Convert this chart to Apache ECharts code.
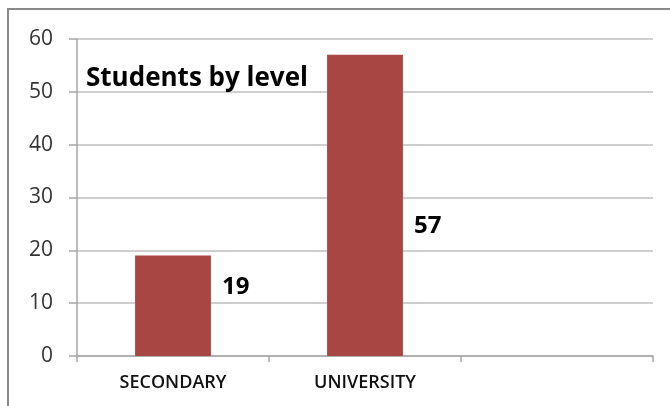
<!DOCTYPE html>
<html>
<head>
<meta charset="utf-8">
<script src="https://cdn.jsdelivr.net/npm/echarts@6/dist/echarts.min.js"></script>
<style>
html,body{margin:0;padding:0;background:#fff;}
#c{width:670px;height:406px;}
</style>
</head>
<body>
<div id="c"></div>
<script>
var categories = ['SECONDARY', 'UNIVERSITY', ''];
var studentCounts = [19, 57, null];
var yTicks = [0, 10, 20, 30, 40, 50, 60];
var titleText = 'Students by level';

// label placement relative to each bar (as in the reference)
var labelPos = [[87, 32], [87, 171], [0, 0]];

var chart = echarts.init(document.getElementById('c'), null, {renderer: 'canvas'});
var font = '"Open Sans", "Liberation Sans", sans-serif';

chart.setOption({
  animation: false,
  backgroundColor: '#ffffff',
  title: {
    text: titleText,
    left: 81,
    top: 61,
    textStyle: {fontFamily: font, fontSize: 26, fontWeight: 'bold', color: '#000'}
  },
  graphic: [{
    type: 'rect',
    shape: {x: 8, y: 9, width: 720, height: 500},
    style: {fill: 'none', stroke: '#8a8a8a', lineWidth: 2},
    silent: true
  }],
  grid: {left: 77, right: 17, top: 39, bottom: 50, containLabel: false},
  xAxis: {
    type: 'category',
    data: categories,
    axisLine: {show: true, lineStyle: {color: '#a6a6a6', width: 1.5}},
    axisTick: {show: true, length: 6, alignWithLabel: false, interval: 0, lineStyle: {color: '#a6a6a6', width: 1.5}},
    axisLabel: {interval: 0, margin: 18, fontFamily: font, fontSize: 18, fontWeight: 600, color: '#111'},
    splitLine: {show: false}
  },
  yAxis: {
    type: 'value',
    min: yTicks[0],
    max: yTicks[yTicks.length - 1],
    interval: 10,
    axisLine: {show: true, lineStyle: {color: '#a6a6a6', width: 1.5}},
    axisTick: {show: true, length: 8, lineStyle: {color: '#a6a6a6', width: 1.5}},
    axisLabel: {margin: 24, fontFamily: font, fontSize: 21, color: '#333'},
    splitLine: {show: true, lineStyle: {color: '#bfbfbf', width: 1.5}}
  },
  series: [{
    type: 'bar',
    barWidth: '39.5%',
    data: studentCounts.map(function (v, i) {
      return {
        value: v,
        label: {
          show: v != null,
          position: labelPos[i],
          verticalAlign: 'middle',
          align: 'left'
        }
      };
    }),
    itemStyle: {color: '#a84643'},
    label: {
      show: true,
      fontFamily: font,
      fontSize: 24,
      fontWeight: 'bold',
      color: '#000'
    }
  }]
});
</script>
</body>
</html>
